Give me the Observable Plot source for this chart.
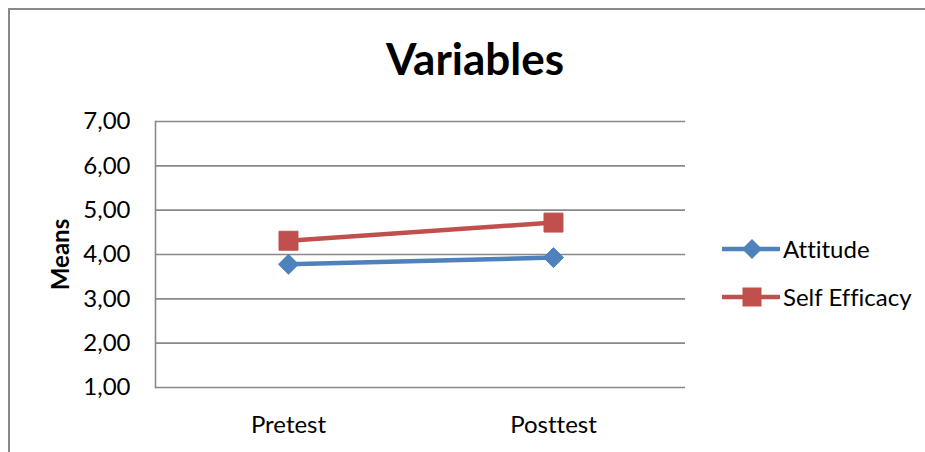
<!DOCTYPE html>
<html>
<head>
<meta charset="utf-8">
<script src="https://cdn.jsdelivr.net/npm/d3@7"></script>
<script src="https://cdn.jsdelivr.net/npm/@observablehq/plot@0.6"></script>
<style>
  html, body { margin: 0; padding: 0; background: #fff; }
  #wrap { position: relative; width: 925px; height: 452px; overflow: hidden; font-family: Lato, "Noto Sans", sans-serif; color: #000; font-variant-ligatures: none; font-feature-settings: "liga" 0, "clig" 0; }
  #wrap svg text { font-variant-ligatures: none; font-feature-settings: "liga" 0, "clig" 0; }
  #border { position: absolute; left: 8px; top: 8px; width: 940px; height: 460px; border-top: 2px solid #898989; border-left: 2px solid #898989; box-sizing: border-box; }
  #title { position: absolute; left: 0; width: 950px; text-align: center; top: 36px; font-size: 44px; font-weight: bold; line-height: 1; }
  #chart { position: absolute; left: 0; top: 0; }
  .leg { position: absolute; left: 722px; display: flex; align-items: center; font-size: 24px; line-height: 1; }
  .leg svg { display: block; margin-right: 3px; }
</style>
</head>
<body>
<div id="wrap">
  <div id="border"></div>
  <div id="chart"></div>
  <div id="title">Variables</div>
  <div id="legend"></div>
</div>
<script>
const tests = ["Pretest", "Posttest"];
const seriesNames = ["Attitude", "Self Efficacy"];
const attitude = [3.78, 3.93];
const selfEfficacy = [4.31, 4.72];
const yTicks = [1, 2, 3, 4, 5, 6, 7];
const colors = ["#4F81BD", "#C0504D"];
const symbols = ["diamond2", "square"];

const data = [];
tests.forEach((t, i) => {
  data.push({test: t, series: seriesNames[0], value: attitude[i]});
  data.push({test: t, series: seriesNames[1], value: selfEfficacy[i]});
});

const fmt = d => d.toFixed(2).replace(".", ",");

const plot = Plot.plot({
  width: 925,
  height: 452,
  marginLeft: 155,
  marginRight: 240,
  marginTop: 121,
  marginBottom: 65,
  style: {fontFamily: "Lato, 'Noto Sans', sans-serif", fontSize: "24px", color: "#000", background: "transparent", overflow: "visible"},
  x: {type: "point", domain: tests, padding: 0.5},
  y: {domain: [1, 7]},
  color: {domain: seriesNames, range: colors},
  marks: [
    Plot.gridY(yTicks, {stroke: "#898989", strokeOpacity: 1, strokeWidth: 1.6}),
    Plot.frame({anchor: "left", stroke: "#898989", strokeWidth: 1.6}),
    Plot.axisY(yTicks, {tickSize: 0, tickPadding: 25, tickFormat: fmt, label: null, fill: "#000", fontSize: 24}),
    Plot.axisX({tickSize: 0, tickPadding: 28, label: null, fill: "#000", fontSize: 24}),
    Plot.text(["Means"], {frameAnchor: "left", textAnchor: "middle", rotate: -90, dx: -94, fontWeight: "bold", fontSize: 24, fill: "#000"}),
    Plot.line(data, {x: "test", y: "value", z: "series", stroke: "series", strokeWidth: 4.5}),
    Plot.dot(data.filter(d => d.series === seriesNames[0]), {x: "test", y: "value", symbol: () => symbols[0], r: 9, fill: colors[0], stroke: colors[0], strokeWidth: 1}),
    Plot.dot(data.filter(d => d.series === seriesNames[1]), {x: "test", y: "value", symbol: () => symbols[1], r: 10.7, fill: colors[1], stroke: colors[1], strokeWidth: 1})
  ],
  symbol: {domain: symbols, range: symbols}
});
document.getElementById("chart").appendChild(plot);

// Legend
const legend = document.getElementById("legend");
const legTops = [249, 297];
seriesNames.forEach((name, i) => {
  const row = document.createElement("div");
  row.className = "leg";
  row.style.top = (legTops[i] - 14) + "px";
  const ns = "http://www.w3.org/2000/svg";
  const s = document.createElementNS(ns, "svg");
  s.setAttribute("width", 58); s.setAttribute("height", 28);
  const ln = document.createElementNS(ns, "line");
  ln.setAttribute("x1", 1); ln.setAttribute("x2", 57); ln.setAttribute("y1", 14); ln.setAttribute("y2", 14);
  ln.setAttribute("stroke", colors[i]); ln.setAttribute("stroke-width", 4.5); ln.setAttribute("stroke-linecap", "round");
  s.appendChild(ln);
  let m;
  if (i === 0) {
    m = document.createElementNS(ns, "path");
    m.setAttribute("d", "M30,4 L40,14 L30,24 L20,14 Z");
  } else {
    m = document.createElementNS(ns, "rect");
    m.setAttribute("x", 20.5); m.setAttribute("y", 4.5); m.setAttribute("width", 19); m.setAttribute("height", 19);
  }
  m.setAttribute("fill", colors[i]);
  s.appendChild(m);
  row.appendChild(s);
  const t = document.createElement("span");
  t.textContent = name;
  row.appendChild(t);
  legend.appendChild(row);
});
</script>
</body>
</html>
